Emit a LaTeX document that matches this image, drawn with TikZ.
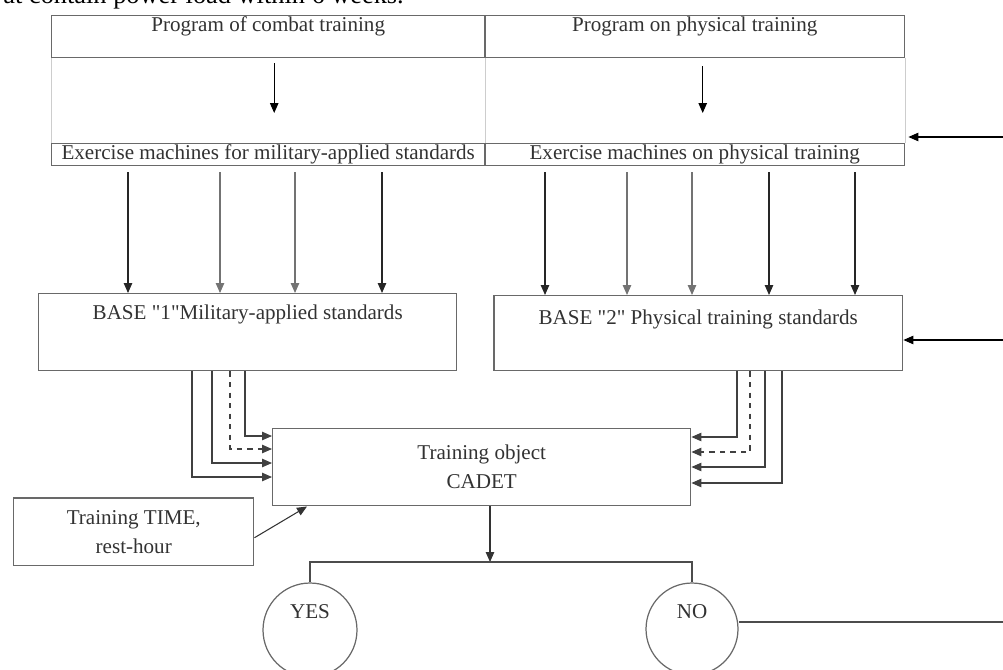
\documentclass[tikz,border=0pt]{standalone}
\usepackage{fontspec}
\setmainfont{Liberation Serif}
\usetikzlibrary{arrows.meta, positioning, calc}
\definecolor{boxgray}{RGB}{105, 105, 105}
\definecolor{lightline}{RGB}{205, 205, 205}
\definecolor{txtgray}{RGB}{50, 50, 50}

\begin{document}
\begin{tikzpicture}[x=0.02cm, y=-0.02cm,
  every node/.style={font=\fontsize{12}{16.5}\selectfont, text=txtgray},
  cell/.style={draw=boxgray, line width=0.85pt, inner sep=0pt, anchor=north west},
  toplabel/.style={anchor=north, inner sep=1pt},
  arr/.style={-{Triangle[length=2mm, width=1.7mm]}, line width=0.6pt},
  link/.style={line width=0.6pt, draw=black!70},
  circ/.style={circle, draw=boxgray, line width=0.7pt, inner sep=0pt}]
  % Frame
  \useasboundingbox (0,0) rectangle (1003,669);

  % Cut-off line of the page text
  \node[anchor=base east, font=\fontsize{15}{18}\selectfont, text=black] (pagetext)
    at (410,4) {at contain power load within 6 weeks.};

  % TABLE: programs and machines
  \node[cell, minimum width=8.66cm, minimum height=0.84cm,
    label={[toplabel]north:Program of combat training}] (prog1) at (51,15) {};
  \node[cell, minimum width=8.4cm, minimum height=0.84cm,
    label={[toplabel]north:Program on physical training}] (prog2) at (484,15) {};
  \node[cell, minimum width=8.66cm, minimum height=0.44cm] (mach1) at (51,143)
    {Exercise machines for military-applied standards};
  \node[cell, minimum width=8.4cm, minimum height=0.44cm] (mach2) at (484,143)
    {Exercise machines on physical training};
  % Empty middle row
  \draw[lightline] (prog1.south west) -- (mach1.north west);
  \draw[lightline] (prog1.south east) -- (mach1.north east);
  \draw[lightline] (prog2.south east) -- (mach2.north east);
  \draw[arr, shorten <=0.1cm, shorten >=0.6cm] ($(prog1.south)+(6,0)$) -- ($(mach1.north)+(6,0)$);
  \draw[arr, shorten <=0.16cm, shorten >=0.6cm] ($(prog2.south)+(8,0)$) -- ($(mach2.north)+(8,0)$);
  % Incoming from the right
  \coordinate (fb1) at (1003,137);
  \draw[arr] (fb1) -- ($(mach2.north east)+(3,-6)$);

  % BASES
  \node[cell, minimum width=8.36cm, minimum height=1.54cm,
    label={[toplabel, yshift=-0.2cm]north:BASE \textquotedbl 1\textquotedbl Military-applied standards}] (base1) at (38,293) {};
  \node[cell, minimum width=8.18cm, minimum height=1.5cm,
    label={[toplabel, yshift=-0.26cm]north:BASE \textquotedbl 2\textquotedbl\ Physical training standards}] (base2) at (493,295) {};
  \foreach \x/\c in {128/black!85, 220/black!55, 295/black!55, 382/black!85}
    \draw[arr, draw=\c, shorten <=0.12cm] (\x,0 |- mach1.south) -- (\x,0 |- base1.north);
  \foreach \x/\c in {545/black!85, 627/black!55, 692/black!55, 769/black!85, 855/black!85}
    \draw[arr, draw=\c, shorten <=0.12cm] (\x,0 |- mach2.south) -- (\x,0 |- base2.north);
  \coordinate (fb2) at (1003,340);
  \draw[arr] (fb2) -- (fb2 -| base2.east);

  % CADET
  \node[cell, minimum width=8.36cm, minimum height=1.54cm, align=center] (cadet) at (272,428)
    {Training object\\CADET};
  \foreach \dx/\dy/\st in {154/49/solid, 174/35/solid, 192/21/dashed, 207/8/solid}
    \draw[arr, draw=black!75, \st] ($(base1.south west)+(\dx,0)$) |- ($(cadet.north west)+(0,\dy)$);
  \foreach \dx/\dy/\st in {244/9/solid, 257/24/dashed, 272/39/solid, 289/55/solid}
    \draw[arr, draw=black!75, \st] ($(base2.south west)+(\dx,0)$) |- ($(cadet.north east)+(0,\dy)$);

  % TIME box
  \node[cell, minimum width=4.8cm, minimum height=1.36cm, align=center] (time) at (13,497)
    {Training TIME,\\rest-hour};
  \draw[arr, draw=black!80] ($(time.east)+(0,6)$) -- ($(cadet.south west)+(35,0)$);

  % Outcome
  \coordinate (split) at (490,562);
  \draw[arr, draw=black!80] (split |- cadet.south) -- (split);
  \node[circ, minimum size=1.88cm] (yes) at (310,630) {};
  \node (yestext) at ($(yes.center)+(0,-18)$) {YES};
  \node[circ, minimum size=1.84cm] (no) at (692,629) {};
  \node (notext) at ($(no.center)+(0,-17)$) {NO};
  \draw[link] (yes.north) |- (split) -| (no.north);
  \coordinate (outno) at (1003,622);
  \draw[link] (no.east |- outno) -- (outno);
\end{tikzpicture}
\end{document}
